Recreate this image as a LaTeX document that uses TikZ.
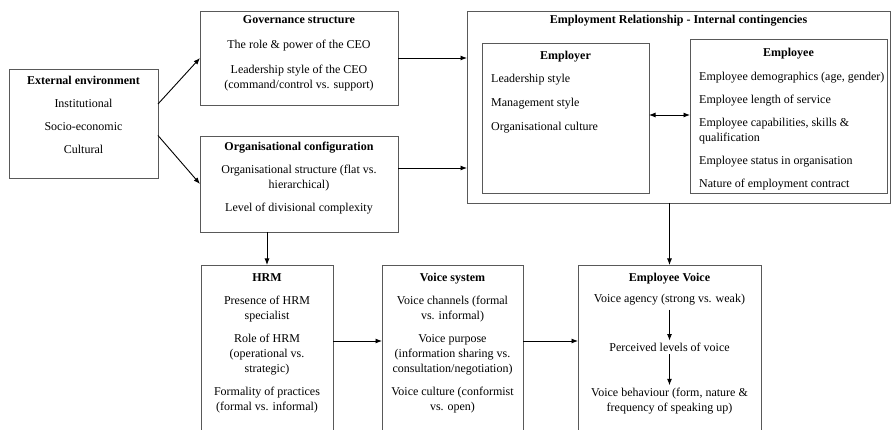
\documentclass[tikz,border=0pt]{standalone}
\usepackage{fontspec}
\setmainfont{Liberation Serif}
\usetikzlibrary{arrows.meta,positioning}
\tikzset{
  frame/.style={draw=black!65, line width=0.8pt, inner sep=0pt, outer sep=0pt, anchor=north west},
  txt/.style={inner sep=0pt, align=center, anchor=north, font=\fontsize{12}{15}\selectfont},
  txtl/.style={txt, align=left, anchor=north west},
  arr/.style={-{Latex[length=6.5pt,width=5pt]}, line width=0.9pt},
  dblarr/.style={{Latex[length=6.5pt,width=5pt]}-{Latex[length=6.5pt,width=5pt]}, line width=0.9pt},
}
\begin{document}
\begin{tikzpicture}[x=1pt,y=-1pt]
\useasboundingbox (0,0) rectangle (892,430);
\clip (0,0) rectangle (892,430);

% boxes
\node[frame, minimum width=149pt, minimum height=109pt] (ext) at (9,69) {};
\node[frame, minimum width=198pt, minimum height=94pt] (gov) at (200,11) {};
\node[frame, minimum width=198pt, minimum height=96pt] (org) at (200,136) {};
\node[frame, minimum width=423pt, minimum height=192pt] (er) at (467,11) {};
\node[frame, minimum width=167pt, minimum height=150pt] (employer) at (482,43) {};
\node[frame, minimum width=197pt, minimum height=154pt] (employee) at (690,39) {};
\node[frame, minimum width=132pt, minimum height=180pt] (hrm) at (201,265) {};
\node[frame, minimum width=141pt, minimum height=180pt] (voice) at (382,265) {};
\node[frame, minimum width=183pt, minimum height=180pt] (ev) at (578,265) {};

% texts
\node[txt] (ext-t) at ([yshift=-7pt]ext.north) {\textbf{External environment}\\[8pt]
  Institutional\\[8pt] Socio-economic\\[8pt] Cultural};
\node[txt] (gov-t) at ([yshift=-4pt]gov.north) {\textbf{Governance structure}\\[10pt]
  The role \& power of the CEO\\[10pt] Leadership style of the CEO\\
  (command/control vs. support)};
\node[txt] (org-t) at ([yshift=-6pt]org.north) {\textbf{Organisational configuration}\\[8pt]
  Organisational structure (flat vs.\\ hierarchical)\\[8pt] Level of divisional complexity};
\node[txt] (er-t) at ([yshift=-4pt]er.north) {\textbf{Employment Relationship - Internal contingencies}};
\node[txt] (employer-t) at ([yshift=-8pt]employer.north) {\textbf{Employer}};
\node[txtl] (employer-l) at ([xshift=9pt,yshift=-31pt]employer.north west) {Leadership style\\[9pt]
  Management style\\[9pt] Organisational culture};
\node[txt] (employee-t) at ([yshift=-9pt]employee.north) {\textbf{Employee}};
\node[txtl] (employee-l) at ([xshift=9pt,yshift=-33pt]employee.north west) {Employee demographics (age, gender)\\[8pt]
  Employee length of service\\[8pt] Employee capabilities, skills \&\\ qualification\\[8pt]
  Employee status in organisation\\[8pt] Nature of employment contract};
\node[txt] (hrm-t) at ([yshift=-8pt]hrm.north) {\textbf{HRM}\\[8pt]
  Presence of HRM\\ specialist\\[8pt] Role of HRM\\ (operational vs.\\ strategic)\\[8pt]
  Formality of practices\\ (formal vs. informal)};
\node[txt] (voice-t) at ([yshift=-8pt]voice.north) {\textbf{Voice system}\\[8pt]
  Voice channels (formal\\ vs. informal)\\[8pt] Voice purpose\\ (information sharing vs.\\
  consultation/negotiation)\\[8pt] Voice culture (conformist\\ vs. open)};
\node[txt] (ev-t) at ([yshift=-8pt]ev.north) {\textbf{Employee Voice}};
\node[txt, anchor=center] (agency) at (669.5,300) {Voice agency (strong vs. weak)};
\node[txt, anchor=center] (perceived) at (669.5,347) {Perceived levels of voice};
\node[txt, anchor=center] (behaviour) at (669.5,401.5) {Voice behaviour (form, nature \&\\ frequency of speaking up)};

% arrows
\draw[arr] ([yshift=19.5pt]ext.east) -- (gov.west);
\draw[arr] ([yshift=-12pt]ext.east) -- (org.west);
\draw[arr] (gov.east) -- (gov.east -| er.west);
\draw[arr] ([yshift=16pt]org.east) -- ([yshift=16pt]org.east -| er.west);
\draw[arr] (hrm.north |- org.south) -- (hrm.north);
\draw[arr] (ev.north |- er.south) -- (ev.north);
\draw[arr] ([yshift=14pt]hrm.east) -- ([yshift=14pt]voice.west);
\draw[arr] ([yshift=14pt]voice.east) -- ([yshift=14pt]ev.west);
\draw[dblarr] ([yshift=3pt]employer.east) -- ([yshift=3pt]employer.east -| employee.west);
\draw[arr, shorten <=4pt, shorten >=2pt] (agency) -- (perceived);
\draw[arr, shorten <=3pt, shorten >=3pt] (perceived) -- (behaviour);
\end{tikzpicture}
\end{document}
